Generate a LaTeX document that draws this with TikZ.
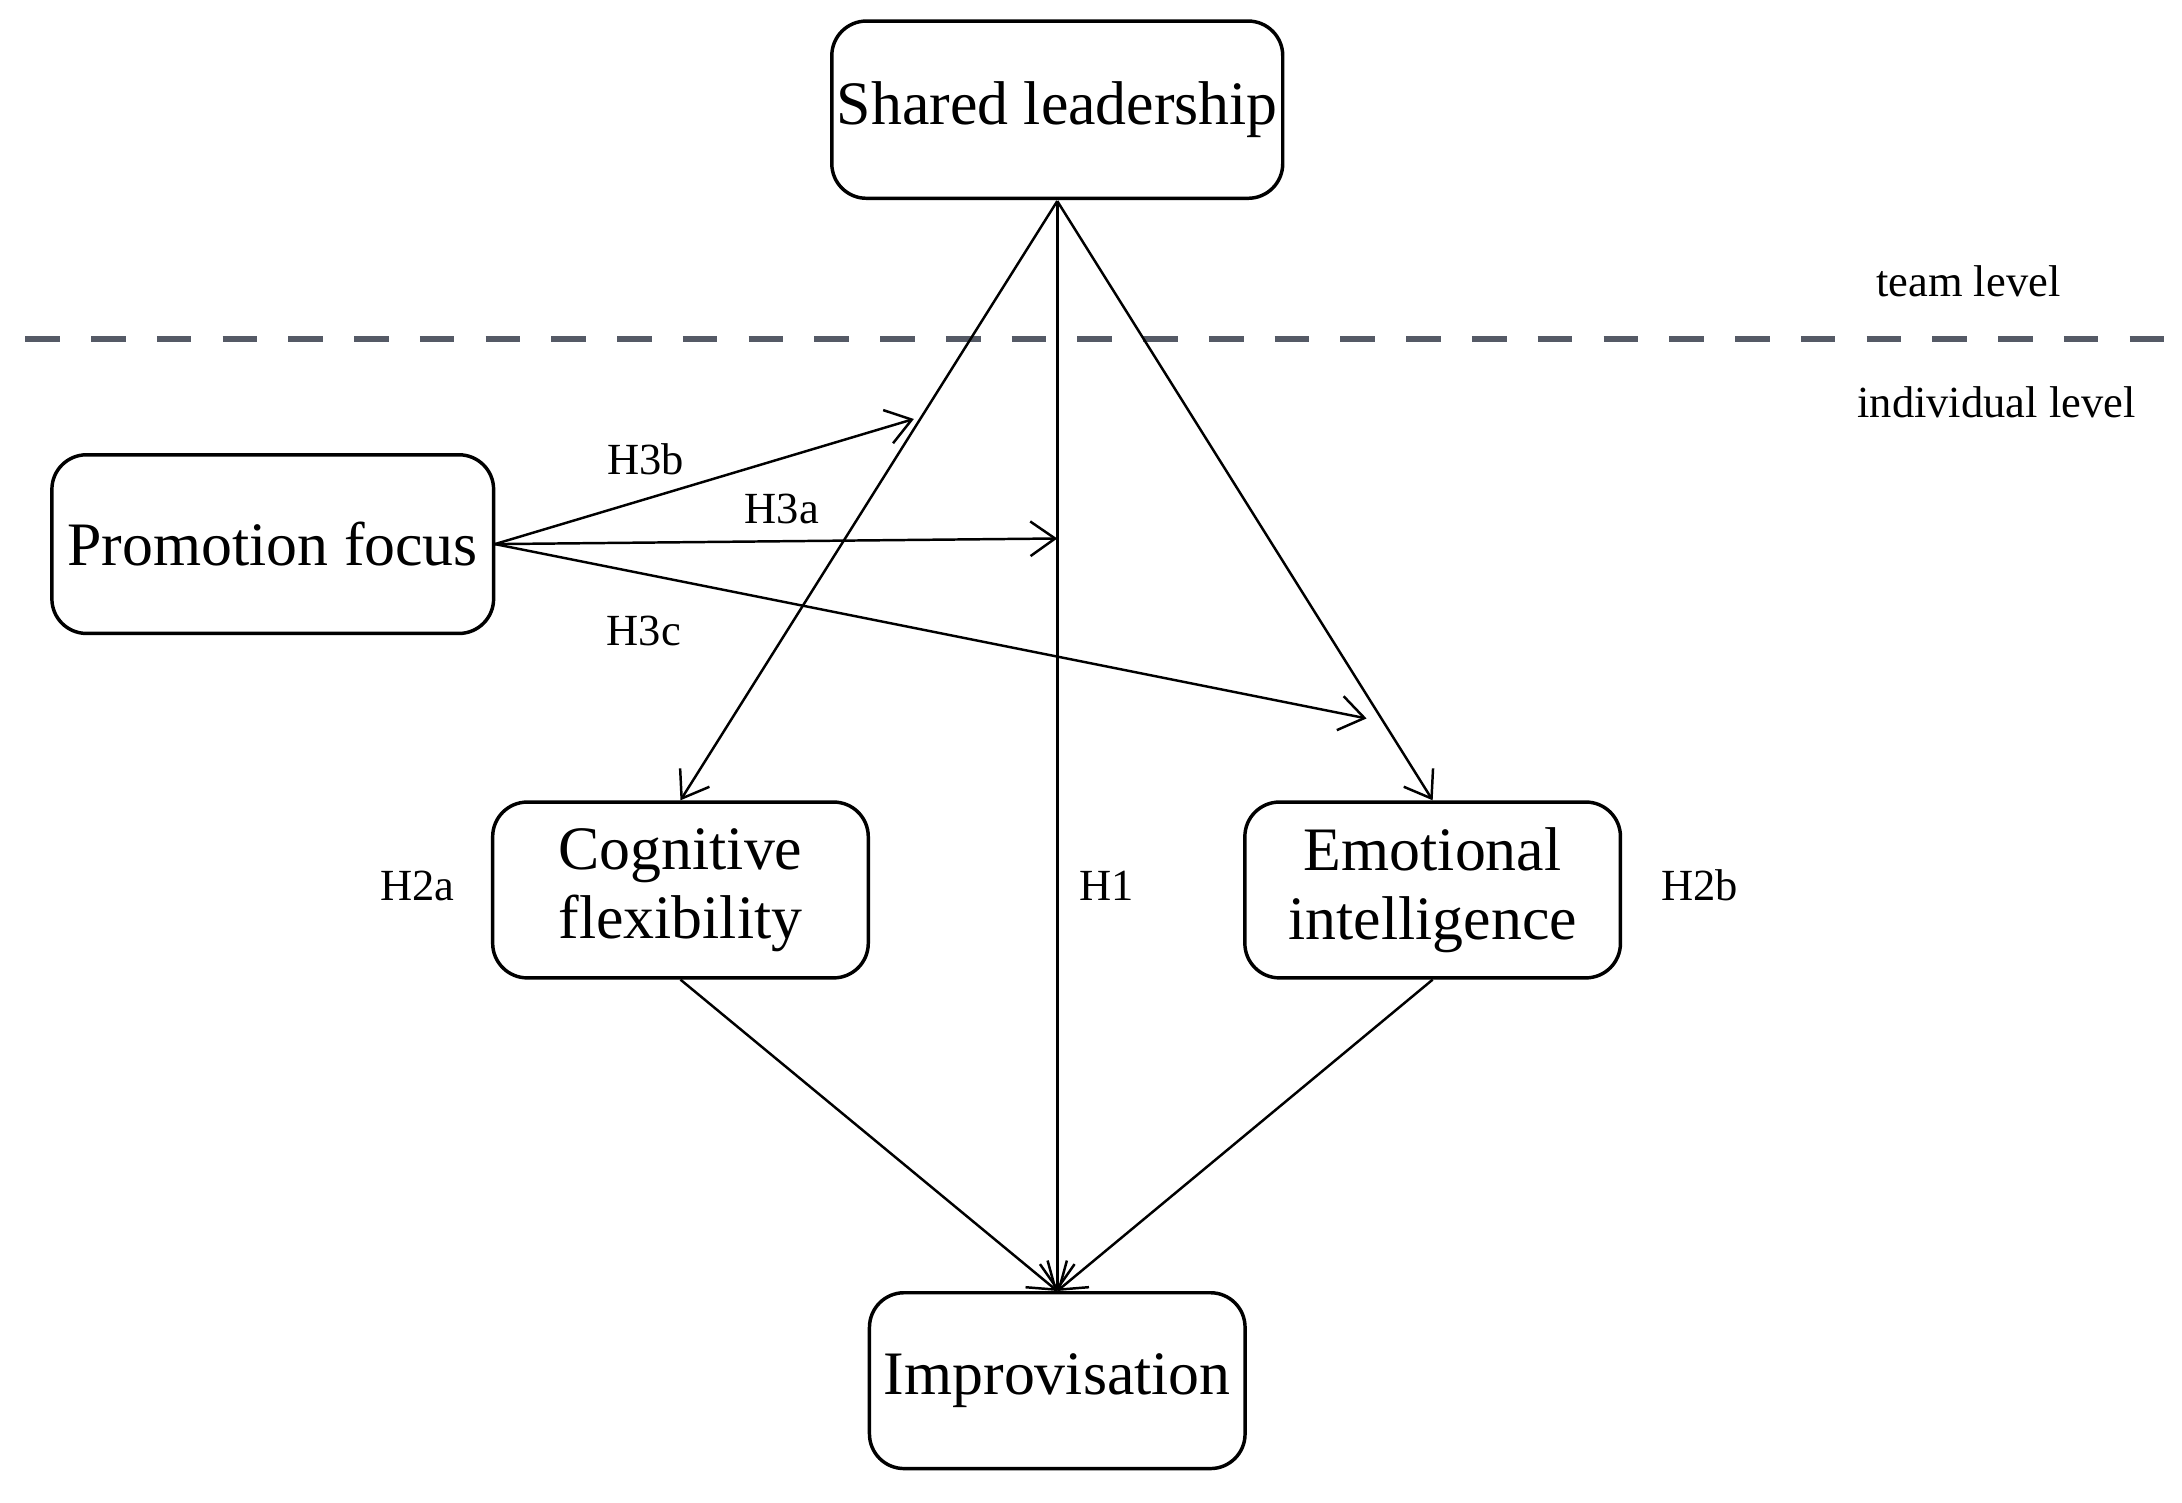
\documentclass[tikz,border=0pt]{standalone}
\usepackage{fontspec}
\setmainfont{Liberation Serif}
\usetikzlibrary{arrows.meta}
\definecolor{dashc}{RGB}{85,90,102}
\begin{document}
\begin{tikzpicture}[x=0.01cm,y=-0.01cm,
  box/.style={draw,rounded corners=7pt,line width=0.7pt,minimum width=2.67cm,minimum height=1.25cm,align=center,font=\fontsize{12.5}{14}\selectfont,inner sep=1pt},
  lab/.style={font=\fontsize{9}{11}\selectfont},
  arr/.style={-{Straight Barb[length=5pt,width=7pt]},line width=0.5pt}]
\useasboundingbox (0,0) rectangle (1552,1069);
\node[box,minimum width=3.12cm,minimum height=1.26cm] (sl) at (752,78) {Shared leadership};
\node[box,minimum width=3.14cm,minimum height=1.27cm] (pf) at (194,387) {Promotion focus};
\node[box] (cf) at (484,633) {Cognitive\\flexibility};
\node[box] (ei) at (1019,633) {Emotional\\intelligence};
\node[box] (im) at (752,982) {Improvisation};
\draw[dash pattern=on 7pt off 6.3pt,line width=1.1pt,color=dashc] (18,241) -- (1545,241);
\node[lab] (tl) at (1400,200) {team level};
\node[lab] (il) at (1420,286) {individual level};
\coordinate (slb) at (752,143);
\draw[arr] (slb) -- (cf.north);
\draw[arr] (slb) -- (ei.north);
\draw[arr] (slb) -- (im.north);
\coordinate (pfr) at (352,387);
\coordinate (e3b) at (650,298);
\coordinate (e3a) at (752,383);
\coordinate (e3c) at (972,511);
\draw[arr] (pfr) -- (e3b);
\draw[arr] (pfr) -- (e3a);
\draw[arr] (pfr) -- (e3c);
\draw[arr] (cf.south) -- (im.north);
\draw[arr] (ei.south) -- (im.north);
\node[lab] (h3b) at (459,327) {H3b};
\node[lab] (h3a) at (556,362) {H3a};
\node[lab] (h3c) at (458,449) {H3c};
\node[lab] (h2a) at (297,630) {H2a};
\node[lab] (h1) at (787,630) {H1};
\node[lab] (h2b) at (1209,630) {H2b};
\end{tikzpicture}
\end{document}
